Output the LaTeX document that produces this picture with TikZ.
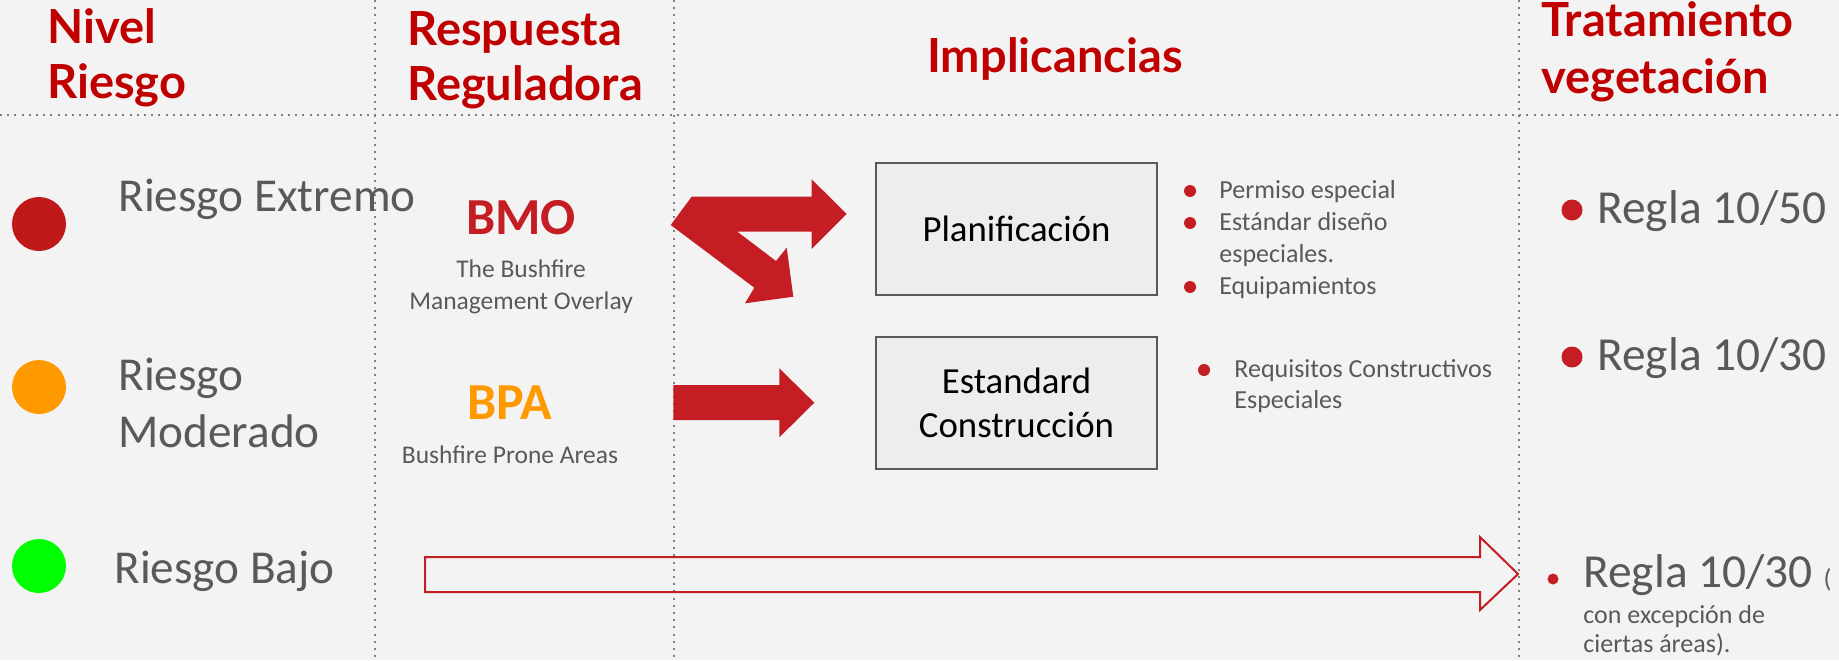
\documentclass[tikz,border=0pt]{standalone}
\usepackage{fontspec}
\setmainfont{Carlito}
\newfontfamily\latofont{Lato}
\usepackage{xcolor}
\usetikzlibrary{positioning}

\definecolor{fondo}{HTML}{F3F3F3}
\definecolor{rojoTit}{HTML}{C00000}
\definecolor{rojoFlecha}{HTML}{C41E24}
\definecolor{grisTxt}{HTML}{595959}
\definecolor{grisLinea}{HTML}{7F7F7F}
\definecolor{naranja}{HTML}{FF9900}
\definecolor{verde}{HTML}{00FF00}
\definecolor{rojoNivel}{HTML}{BE1818}
\definecolor{cajaFondo}{HTML}{EDEDED}

\begin{document}
\begin{tikzpicture}[x=0.5pt,y=-0.5pt]
		% ------- style -------
		\tikzset{%
			titulo/.style={anchor=base west, inner sep=0pt, text=rojoTit,
				font=\latofont\bfseries\fontsize{23.5}{28}\selectfont},
			nivel/.style={circle, inner sep=0pt, minimum size=27pt, fill=#1},
			riesgo/.style={anchor=base west, inner sep=0pt, text=grisTxt, align=left,
				font=\fontsize{23.6}{28.5}\selectfont},
			sigla/.style={anchor=base, inner sep=0pt, text=#1,
				font=\bfseries\fontsize{26}{30}\selectfont},
			subtxt/.style={inner sep=0pt, text=grisTxt, align=center,
				font=\fontsize{12.75}{16}\selectfont},
			caja/.style={draw=grisTxt, line width=1pt, fill=cajaFondo, align=center,
				minimum width=140.5pt, minimum height=66pt,
				font=\fontsize{18.4}{22}\selectfont},
			vineta/.style={circle, inner sep=0pt, fill=rojoFlecha, minimum size=#1},
			lista/.style={anchor=base west, inner sep=0pt, text=grisTxt, align=left,
				font=\fontsize{13}{16}\selectfont},
			regla/.style={anchor=base west, inner sep=0pt, text=grisTxt,
				font=\fontsize{23.7}{28}\selectfont},
			separador/.style={grisLinea, line width=1pt, dash pattern=on 1pt off 2.6pt},
			flecha/.style={fill=rojoFlecha},
		}
		
		% ------- fondo -------
		\fill[fondo] (0,0) rectangle (1839,660);
		\useasboundingbox (0,0) rectangle (1839,660);
		\foreach \x in {375, 674, 1519} {
			\draw[separador] (\x,0) -- (\x,660);
		}
		\draw[separador] (0,115) -- (1839,115);
		
		% ------- titulos -------
		\node[titulo] (nivel-1) at (47,43)  {Nivel};
		\node[titulo] (nivel-2) at (47,98)  {Riesgo};
		\node[titulo] (resp-1)  at (407,45) {Respuesta};
		\node[titulo] (resp-2)  at (407,100) {Reguladora};
		\node[titulo, anchor=base] (impl) at (1055,72) {Implicancias};
		\node[titulo] (trat-1)  at (1541,36) {Tratamiento};
		\node[titulo] (trat-2)  at (1541,93) {vegetación};
		
		% ------- niveles -------
		\node[nivel=rojoNivel] (c-ext) at (39,224) {};
		\node[nivel=naranja]   (c-mod) at (39,387) {};
		\node[nivel=verde]     (c-baj) at (39,566) {};
		% base = last line
		\node[riesgo] (extremo)  at (118,211) {Riesgo Extremo};
		\node[riesgo] (moderado) at (118,447) {Riesgo\\Moderado};
		\node[riesgo] (bajo)     at (114,583) {Riesgo Bajo};
		
		% ------- respuesta -------
		\node[sigla=rojoFlecha] (bmo) at (521,234) {BMO};
		\node[subtxt, below=12.5pt of bmo] (bmo-txt) {The Bushfire\\Management Overlay};
		\node[sigla=naranja] (bpa) at (510,419) {BPA};
		\node[subtxt, below=13pt of bpa] (bpa-txt) {Bushfire Prone Areas};
		
		% ------- flechas -------
		\fill[flecha] (670.7,225) -- (691.7,196.7) -- (811.7,196.7) -- (811.7,179.3)
			-- (846.7,214) -- (811.7,249) -- (811.7,231.7) -- (737.3,231.7)
			-- (776,261) -- (786.7,247.7) -- (793.3,296.7) -- (745,303.3)
			-- (754.3,287.7) -- cycle;
		\fill[flecha] (673.3,385) -- (779.3,385) -- (779.3,368.3) -- (814.3,402.7)
			-- (779.3,437.3) -- (779.3,420) -- (673.3,420) -- cycle;
		\draw[rojoFlecha, line width=1pt] (425,557) -- (1480,557) -- (1480,537)
			-- (1518,574) -- (1480,610) -- (1480,592) -- (425,592) -- cycle;
		
		% ------- implicancias -------
		\node[caja] (planif) at (1016.5,229) {Planificación};
		\node[caja] (constr) at (1016.5,402.5) {Estandard\\Construcción};
		\foreach \y in {191, 223, 287} {
			\node[vineta=6pt] at (1190,\y) {};
		}
		\node[lista] (planif-lista) at (1219,294)
			{Permiso especial\\Estándar diseño\\especiales.\\Equipamientos};
		\node[vineta=6pt] (req-pt) at (1204,370) {};
		\node[lista, font=\fontsize{13}{15.5}\selectfont] (constr-lista) at (1234,408)
			{Requisitos Constructivos\\Especiales};
		
		% ------- tratamiento -------
		\node[vineta=10.5pt] (r1-pt) at (1572,210) {};
		\node[regla] (regla-1) at (1597,223) {Regla 10/50};
		\node[vineta=10.5pt] (r2-pt) at (1572,357) {};
		\node[regla] (regla-2) at (1597,370) {Regla 10/30};
		\node[vineta=5.5pt] (r3-pt) at (1553,579) {};
		\node[regla] (regla-3) at (1583,587) {Regla 10/30 {\fontsize{13}{16}\selectfont(}};
		\node[lista, font=\fontsize{13}{14.5}\selectfont] (regla-3-txt) at (1583,652)
			{con excepción de\\ciertas áreas).};
	\end{tikzpicture}
\end{document}
